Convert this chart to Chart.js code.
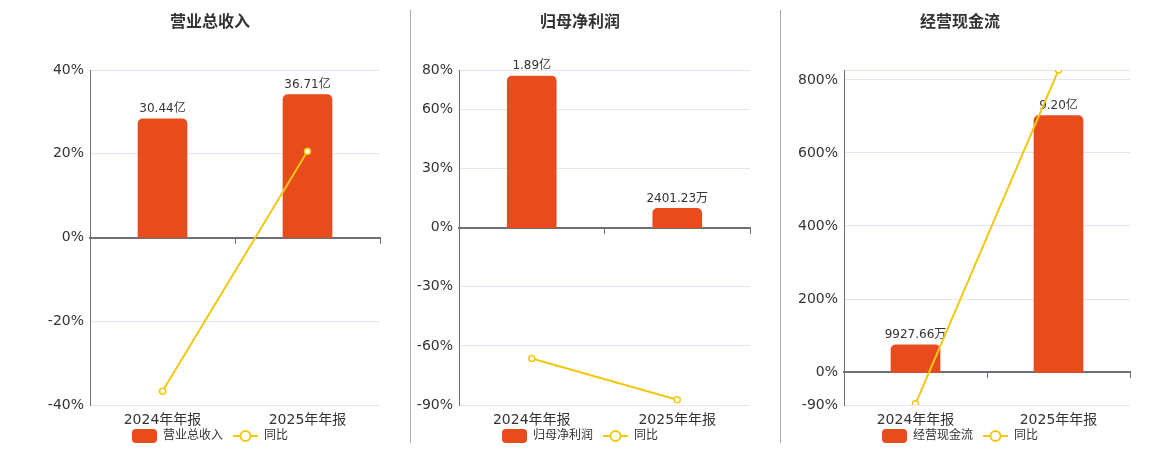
<!DOCTYPE html>
<html lang="zh-CN">
<head>
    <meta charset="UTF-8">
    <title>营业总收入 / 归母净利润 / 经营现金流</title>
    <style>
        body {
            margin: 0;
            width: 1160px;
            height: 450px;
            overflow: hidden;
            position: relative;
            background: #fff;
        }
        canvas {
            position: absolute;
            top: 0;
        }
        .sep {
            position: absolute;
            top: 10px;
            width: 1px;
            height: 433px;
            background: #aaa;
        }
    </style>
</head>
<body>
    <!-- canvas left = 2*panelCenter - plotRight so title/legend centre on the panel -->
    <canvas id="c1" width="350" height="452" style="left:40px"></canvas>
    <canvas id="c2" width="350" height="452" style="left:410px"></canvas>
    <canvas id="c3" width="350" height="452" style="left:790px"></canvas>
    <div class="sep" style="left:410px"></div>
    <div class="sep" style="left:780px"></div>

    <script src="https://cdn.jsdelivr.net/npm/chart.js@4.4.0/dist/chart.umd.min.js"></script>
    <script>
        // data (amounts in 亿, yoy in %)
        var categories = ['2024年年报', '2025年年报'];

        var revenue = [30.44, 36.71];
        var revenueYoy = [-36.7, 20.6];
        var revenueTicks = [-40, -20, 0, 20, 40];

        var profit = [1.89, 0.240123];
        var profitYoy = [-66.4, -87.3];
        var profitTicks = [-90, -60, -30, 0, 30, 60, 80];

        var cashflow = [0.992766, 9.20];
        var cashflowYoy = [-86.7, 826.7];
        var cashflowTicks = [-90, 0, 200, 400, 600, 800];

        var BAR_COLOR = '#E84B1C';
        var LINE_COLOR = '#F2C80F';
        var TEXT_COLOR = '#333';

        Chart.defaults.font.family = '"DejaVu Sans", "Noto Sans CJK SC", sans-serif';
        Chart.defaults.color = TEXT_COLOR;

        var panels = [
            { id: 'c1', title: '营业总收入', bars: revenue, yoy: revenueYoy, ticks: revenueTicks,
              yMin: -40, yMax: 40, barMin: -43, barMax: 43, axisWidth: 50, right: 10 },
            { id: 'c2', title: '归母净利润', bars: profit, yoy: profitYoy, ticks: profitTicks,
              yMin: -90, yMax: 80, barMin: -2.21, barMax: 1.965, axisWidth: 49, right: 10 },
            { id: 'c3', title: '经营现金流', bars: cashflow, yoy: cashflowYoy, ticks: cashflowTicks,
              yMin: -90, yMax: 827, barMin: -1.162, barMax: 10.83, axisWidth: 54, right: 10 }
        ];

        function formatAmount(v) {
            if (Math.abs(v) >= 1) return v.toFixed(2) + '亿';
            return (v * 10000).toFixed(2) + '万';
        }

        // legend icons
        function barIcon() {
            var c = document.createElement('canvas');
            c.width = 25; c.height = 14;
            var ctx = c.getContext('2d');
            ctx.fillStyle = BAR_COLOR;
            ctx.beginPath();
            ctx.roundRect(0, 0, 25, 14, 4);
            ctx.fill();
            return c;
        }
        function lineIcon() {
            var c = document.createElement('canvas');
            c.width = 25; c.height = 14;
            var ctx = c.getContext('2d');
            ctx.strokeStyle = LINE_COLOR;
            ctx.lineWidth = 2;
            ctx.beginPath();
            ctx.moveTo(0, 7); ctx.lineTo(25, 7);
            ctx.stroke();
            ctx.beginPath();
            ctx.arc(12.5, 7, 5, 0, Math.PI * 2);
            ctx.fillStyle = '#fff';
            ctx.fill();
            ctx.stroke();
            return c;
        }
        var icons = [barIcon(), lineIcon()];

        // value labels above bars, drawn before the line
        var valueLabels = {
            id: 'valueLabels',
            afterDatasetDraw: function(chart, args) {
                if (args.meta.type !== 'bar') return;
                var ctx = chart.ctx;
                var data = chart.data.datasets[args.index].data;
                ctx.save();
                ctx.font = '12px ' + Chart.defaults.font.family;
                ctx.fillStyle = TEXT_COLOR;
                ctx.textAlign = 'center';
                ctx.textBaseline = 'bottom';
                args.meta.data.forEach(function(bar, i) {
                    ctx.fillText(formatAmount(data[i]), bar.x, bar.y - 4);
                });
                ctx.restore();
            }
        };

        panels.forEach(function(p) {
            var ctx = document.getElementById(p.id).getContext('2d');
            new Chart(ctx, {
                type: 'bar',
                data: {
                    labels: categories,
                    datasets: [
                        {
                            type: 'bar',
                            label: p.title,
                            data: p.bars,
                            backgroundColor: BAR_COLOR,
                            borderRadius: 5,
                            barThickness: 49,
                            xAxisID: 'x',
                            yAxisID: 'y2',
                            order: 1
                        },
                        {
                            type: 'line',
                            label: '同比',
                            data: p.yoy,
                            borderColor: LINE_COLOR,
                            borderWidth: 2,
                            pointRadius: 3,
                            pointBorderWidth: 1.5,
                            pointBackgroundColor: '#fff',
                            pointBorderColor: LINE_COLOR,
                            tension: 0,
                            xAxisID: 'x',
                            yAxisID: 'y',
                            order: 0
                        }
                    ]
                },
                options: {
                    responsive: false,
                    animation: false,
                    layout: { padding: { left: 0, right: p.right, top: 0, bottom: 0 } },
                    scales: {
                        // axis line through 0%
                        x: {
                            type: 'category',
                            position: { y: 0 },
                            offset: true,
                            grid: {
                                offset: true,
                                drawOnChartArea: false,
                                drawTicks: true,
                                tickLength: 5,
                                color: '#6E7079'
                            },
                            border: { display: true, color: '#6E7079', width: 2 },
                            ticks: { display: false }
                        },
                        // empty strip between plot and legend
                        x2: {
                            type: 'category',
                            labels: categories,
                            position: 'bottom',
                            grid: { display: false, drawTicks: false },
                            border: { display: false },
                            ticks: { display: false },
                            afterFit: function(s) { s.height = 15; }
                        },
                        // category labels under the plot
                        x3: {
                            type: 'category',
                            labels: categories,
                            position: { y: p.yMin },
                            offset: true,
                            grid: { display: false, drawTicks: false },
                            border: { display: false },
                            ticks: { font: { size: 14 }, color: TEXT_COLOR, padding: 7 }
                        },
                        y: {
                            type: 'linear',
                            position: 'left',
                            min: p.yMin,
                            max: p.yMax,
                            afterBuildTicks: function(s) {
                                var vals = p.ticks.slice();
                                if (vals.indexOf(p.yMax) < 0) vals.push(p.yMax);
                                s.ticks = vals.map(function(v) { return { value: v }; });
                            },
                            afterFit: function(s) { s.width = p.axisWidth; },
                            grid: { color: '#E0E6F1', lineWidth: 1, drawTicks: false },
                            border: { display: true, color: '#6E7079', width: 1 },
                            ticks: {
                                font: { size: 14 },
                                color: TEXT_COLOR,
                                padding: 6,
                                callback: function(v) {
                                    return p.ticks.indexOf(v) >= 0 ? v + '%' : '';
                                }
                            }
                        },
                        y2: {
                            type: 'linear',
                            display: false,
                            min: p.barMin,
                            max: p.barMax
                        }
                    },
                    plugins: {
                        title: {
                            display: true,
                            text: p.title,
                            color: TEXT_COLOR,
                            font: { size: 16, weight: 'bold', lineHeight: 1.2 },
                            padding: { top: 13.5, bottom: 37.3 }
                        },
                        legend: {
                            position: 'bottom',
                            labels: {
                                usePointStyle: true,
                                pointStyleWidth: 25,
                                padding: 10,
                                color: TEXT_COLOR,
                                font: { size: 12 },
                                sort: function(a, b) { return a.datasetIndex - b.datasetIndex; },
                                generateLabels: function(chart) {
                                    var items = Chart.defaults.plugins.legend.labels.generateLabels(chart);
                                    items.forEach(function(it) {
                                        it.pointStyle = icons[it.datasetIndex];
                                    });
                                    return items;
                                }
                            }
                        },
                        tooltip: { enabled: false }
                    }
                },
                plugins: [valueLabels]
            });
        });
    </script>
</body>
</html>
